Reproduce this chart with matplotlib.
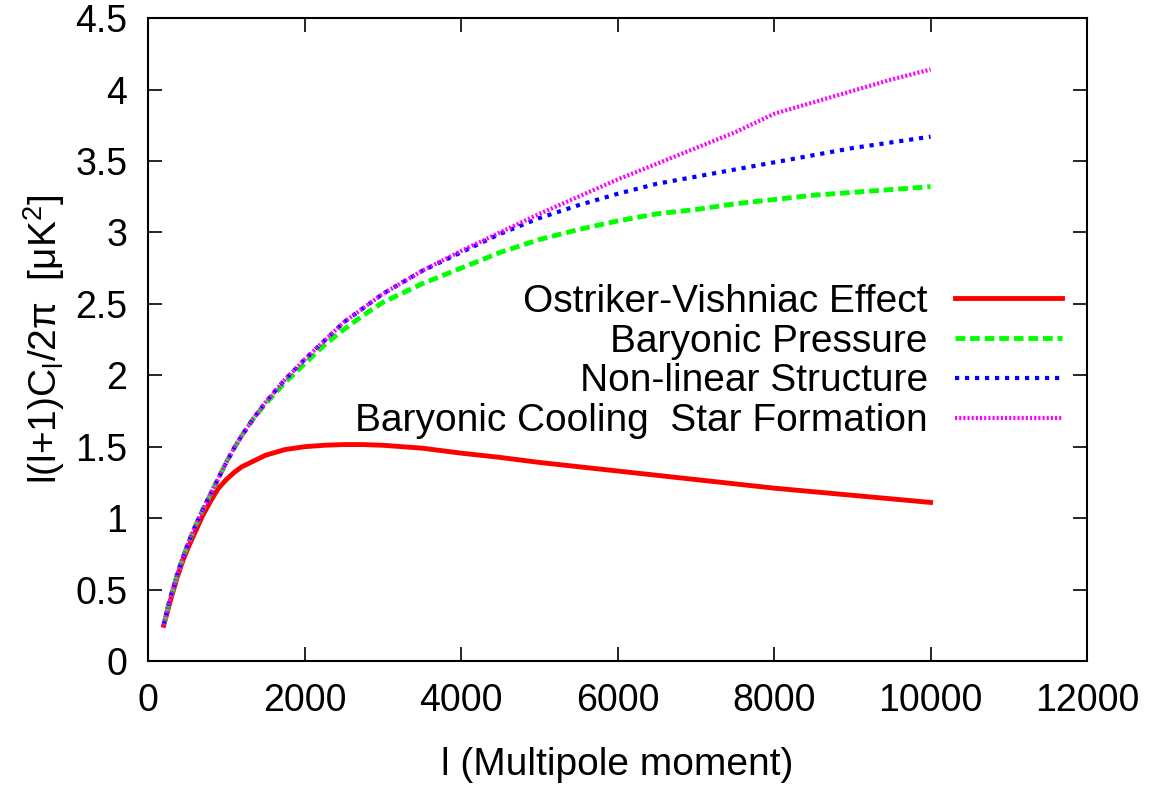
import numpy as np
import matplotlib
matplotlib.use("Agg")
import matplotlib.pyplot as plt

plt.rcParams['font.family'] = ['Liberation Sans', 'DejaVu Sans']
plt.rcParams['mathtext.fontset'] = 'custom'
plt.rcParams['mathtext.rm'] = 'Liberation Sans'

# Multipole moments
ell = [200, 250, 300, 375, 450, 525, 600, 700, 800, 900,
       1000, 1100, 1200, 1350, 1500, 1750, 2000, 2250, 2500, 2750,
       3000, 3500, 4000, 4500, 5000, 5500, 6000, 6500, 7000, 7500,
       8000, 8500, 9000, 9500, 10000]

# Ostriker-Vishniac effect
ov = [0.25, 0.35, 0.45, 0.59, 0.71, 0.81, 0.90, 1.02, 1.12, 1.21,
      1.27, 1.32, 1.36, 1.40, 1.44, 1.48, 1.50, 1.51, 1.515, 1.515,
      1.51, 1.49, 1.455, 1.425, 1.39, 1.36, 1.33, 1.30, 1.27, 1.24,
      1.21, 1.185, 1.16, 1.135, 1.11]
# Baryonic pressure
bp = [0.25, 0.37, 0.47, 0.61, 0.73, 0.84, 0.94, 1.06, 1.17, 1.28,
      1.39, 1.49, 1.58, 1.70, 1.80, 1.95, 2.08, 2.21, 2.32, 2.42,
      2.51, 2.64, 2.75, 2.86, 2.95, 3.02, 3.08, 3.13, 3.16, 3.20,
      3.23, 3.26, 3.28, 3.30, 3.32]
# Non-linear structure
nl = [0.25, 0.37, 0.47, 0.61, 0.73, 0.84, 0.94, 1.06, 1.17, 1.28,
      1.39, 1.49, 1.58, 1.70, 1.81, 1.97, 2.11, 2.24, 2.37, 2.47,
      2.57, 2.73, 2.86, 2.99, 3.10, 3.19, 3.27, 3.34, 3.39, 3.44,
      3.49, 3.54, 3.59, 3.63, 3.67]
# Baryonic cooling / star formation
cs = [0.25, 0.37, 0.47, 0.61, 0.73, 0.84, 0.94, 1.06, 1.17, 1.28,
      1.39, 1.49, 1.58, 1.70, 1.81, 1.97, 2.11, 2.24, 2.37, 2.47,
      2.57, 2.73, 2.87, 3.00, 3.13, 3.25, 3.37, 3.48, 3.59, 3.70,
      3.83, 3.91, 3.99, 4.07, 4.14]

labels = ['Ostriker-Vishniac Effect', 'Baryonic Pressure',
          'Non-linear Structure', 'Baryonic Cooling  Star Formation']

fig = plt.figure(figsize=(11.63, 7.86), dpi=100)
ax = fig.add_axes([0.1273, 0.159, 0.8074, 0.818])

ax.plot(ell, ov, color='#ff0000', lw=3.5, label=labels[0])
ax.plot(ell, bp, color='#00ff00', lw=3.5, dashes=(2, 1), label=labels[1])
ax.plot(ell, nl, color='#0000ff', lw=3.0, dashes=(1, 1.4), label=labels[2])
ax.plot(ell, cs, color='#ff00ff', lw=3.0, dashes=(0.5, 0.5), label=labels[3])

ax.set_xlim(0, 12000)
ax.set_ylim(0, 4.5)
ax.set_xticks(np.arange(0, 12001, 2000))
ax.set_yticks(np.arange(0, 4.51, 0.5))
ax.set_yticklabels(['0', '0.5', '1', '1.5', '2', '2.5', '3', '3.5', '4', '4.5'])

ax.tick_params(direction='in', length=10, width=1.2, top=True, right=True,
               labelsize=27)
ax.tick_params(axis='x', pad=16)
ax.tick_params(axis='y', pad=15)
for s in ax.spines.values():
    s.set_linewidth(1.5)

ax.set_xlabel('l (Multipole moment)', fontsize=28, labelpad=20)
ax.set_ylabel(r'l(l+1)C$_\mathregular{l}$/2π  [μK$^\mathregular{2}$]', fontsize=28,
              labelpad=6)

ax.legend(loc='upper right', bbox_to_anchor=(0.9734, 0.587), frameon=False,
          markerfirst=False, fontsize=28, handlelength=2.75, handletextpad=0.7,
          labelspacing=0.1, borderpad=0, borderaxespad=0)

fig.savefig('out.png', dpi=100)
